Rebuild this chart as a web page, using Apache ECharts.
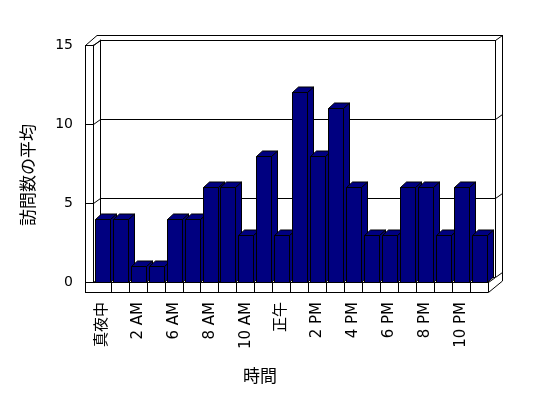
<!DOCTYPE html>
<html>
<head>
<meta charset="utf-8">
<script src="https://cdn.jsdelivr.net/npm/echarts@6/dist/echarts.min.js"></script>
<style>html,body{margin:0;padding:0;background:#fff;}#c{width:548px;height:398px;}</style>
</head>
<body>
<div id="c"></div>
<script>
const categories = ['真夜中','1 AM','2 AM','3 AM','6 AM','7 AM','8 AM','9 AM','10 AM','11 AM','正午','1 PM','2 PM','3 PM','4 PM','5 PM','6 PM','7 PM','8 PM','9 PM','10 PM','11 PM'];
const visits = [4,4,1,1,4,4,6,6,3,8,3,12,8,11,6,3,3,6,6,3,6,3];
const yTicks = [0,5,10,15];
const xTitle = '時間';
const yTitle = '訪問数の平均';

const FONT = "'DejaVu Sans', 'Noto Sans CJK JP', sans-serif";
const CJK = "'Noto Sans CJK JP', sans-serif";
const chart = echarts.init(document.getElementById('c'), null, {renderer:'canvas'});

// layout
const G = {left:93, top:45, width:395, height:237};
const D = {dx:7, dy:-5};
const BAR_D = {dx:6, dy:-5.5};
const floorBottom = 292;
const outerLeft = 85;

function renderBar(params, api){
  const i = api.value(0), v = api.value(1);
  const base = api.coord([i, 0]);
  const top = api.coord([i, v]);
  const band = api.size([1, 0])[0];
  const x0 = Math.round(base[0] - band/2 + band*0.1) + 0.5;
  const w = Math.round(band*0.84);
  const yb = Math.round(base[1]) + 0.5;
  const yt = Math.round(top[1]) + 0.5;
  const dx = BAR_D.dx, dy = BAR_D.dy;
  const st = {fill:'#000080', stroke:'#000', lineWidth:1};
  return {type:'group', children:[
    {type:'polygon', shape:{points:[[x0+w,yb],[x0+w+dx,yb+dy],[x0+w+dx,yt+dy],[x0+w,yt]]}, style:st},
    {type:'polygon', shape:{points:[[x0,yt],[x0+dx,yt+dy],[x0+w+dx,yt+dy],[x0+w,yt]]}, style:st},
    {type:'rect', shape:{x:x0, y:yt, width:w, height:yb-yt}, style:st}
  ]};
}

const option = {
  backgroundColor:'#fff',
  animation:false,
  grid:[
    {left:G.left, top:G.top, width:G.width, height:G.height, containLabel:false},
    {left:G.left+D.dx, top:G.top+D.dy, width:G.width, height:G.height, containLabel:false}
  ],
  xAxis:[
    {type:'category', gridIndex:0, data:categories, boundaryGap:true,
     axisLine:{show:true, lineStyle:{color:'#000', width:1}},
     axisTick:{show:true, length:10, interval:function(idx){return idx!==0;}, lineStyle:{color:'#000'}},
     axisLabel:{interval:1, rotate:90, margin:20, color:'#000', fontSize:15, fontFamily:FONT},
     splitLine:{show:false}},
    {type:'category', gridIndex:1, data:categories, show:false}
  ],
  yAxis:[
    {type:'value', gridIndex:0, min:0, max:15, interval:5,
     axisLine:{show:true, lineStyle:{color:'#000'}},
     axisTick:{show:true, length:8, lineStyle:{color:'#000'}},
     axisLabel:{margin:20, color:'#000', fontSize:14, fontFamily:FONT},
     splitLine:{show:false}},
    {type:'value', gridIndex:1, min:0, max:15, interval:5,
     axisLine:{show:true, lineStyle:{color:'#000'}},
     axisTick:{show:false}, axisLabel:{show:false},
     splitLine:{show:true, lineStyle:{color:'#000', width:1}}}
  ],
  series:[{
    type:'custom', xAxisIndex:0, yAxisIndex:0,
    renderItem:renderBar,
    data: visits.map((v,i)=>[i,v]),
    encode:{x:0, y:1}, z:5
  }]
};
chart.setOption(option);

// frame (walls / floor) drawn around the grid
const L = (x1,y1,x2,y2) => ({type:'line', z:1, shape:{x1,y1,x2,y2}, style:{stroke:'#000', lineWidth:1}});
const R = G.left + G.width;           // front right
const B = G.top + G.height;           // front bottom
const BR = R + D.dx, BT = G.top + D.dy, BB = B + D.dy; // back plane
const OR = BR + 7, OT = BT - 5;       // outer edges
const els = [];
els.push(L(outerLeft+0.5, G.top, outerLeft+0.5, floorBottom+0.5));
els.push(L(outerLeft, floorBottom+0.5, R+0.5, floorBottom+0.5));
els.push(L(outerLeft+0.5, G.top+0.5, G.left+D.dx-3, OT+0.5));
els.push(L(G.left+0.5, G.top+0.5, G.left+D.dx+0.5, BT+0.5));
els.push(L(G.left+D.dx-3, OT+0.5, OR+0.5, OT+0.5));
els.push(L(BR+0.5, BT, BR+0.5, BB));
els.push(L(OR+0.5, OT, OR+0.5, B-1));
els.push(L(BR+0.5, BT+0.5, OR+0.5, OT+0.5));
els.push(L(R+0.5, B+0.5, BR+0.5, BB+0.5));
els.push(L(R+0.5, floorBottom+0.5, OR+0.5, B-1));
yTicks.forEach(v=>{
  const yf = chart.convertToPixel({yAxisIndex:0}, v);
  const yb = chart.convertToPixel({yAxisIndex:1}, v);
  els.push(L(G.left+0.5, Math.round(yf)+0.5, G.left+D.dx+0.5, Math.round(yb)+0.5));
  if (v < 15) els.push(L(BR+0.5, Math.round(yb)+0.5, OR+0.5, Math.round(yb)-4.5));
});
els.push({type:'text', z:10, x:28, y:175, rotation:Math.PI/2,
  style:{text:yTitle, fill:'#000', font:'17px '+CJK, align:'center', verticalAlign:'middle'}});
els.push({type:'text', z:10, x:260, y:376,
  style:{text:xTitle, fill:'#000', font:'17px '+CJK, align:'center', verticalAlign:'middle'}});
chart.setOption({graphic:{elements:els}});
</script>
</body>
</html>
